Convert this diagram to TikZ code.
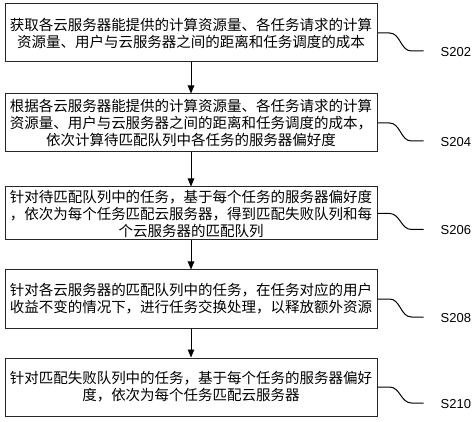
\documentclass[tikz,border=0pt]{standalone}
\usepackage{fontspec}
\setmainfont{Liberation Sans}
\newfontfamily\cjk{Noto Sans CJK SC}
\usetikzlibrary{arrows.meta}
\begin{document}
\begin{tikzpicture}[x=1pt,y=-1pt,
  box/.style={draw=black!85,line width=1pt,minimum width=372pt,inner sep=0pt,align=center,
    font=\cjk\fontsize{14.5}{17}\selectfont},
  arr/.style={-{Triangle[length=8pt,width=6.5pt]},line width=0.9pt},
  lead/.style={line width=1pt},
  lab/.style={anchor=west,font=\fontsize{13}{15}\selectfont,inner sep=0pt}]
\useasboundingbox (0,0) rectangle (474,422);
\node[box,minimum height=58pt] (b1) at (191,33)
  {获取各云服务器能提供的计算资源量、各任务请求的计算\\资源量、用户与云服务器之间的距离和任务调度的成本};
\node[box,minimum height=58pt] (b2) at (191,123)
  {根据各云服务器能提供的计算资源量、各任务请求的计算\\资源量、用户与云服务器之间的距离和任务调度的成本，\\依次计算待匹配队列中各任务的服务器偏好度};
\node[box,minimum height=53pt] (b3) at (191,213.5)
  {针对待匹配队列中的任务，基于每个任务的服务器偏好度\\，依次为每个任务匹配云服务器，得到匹配失败队列和每\\个云服务器的匹配队列};
\node[box,minimum height=58pt] (b4) at (191,299)
  {针对各云服务器的匹配队列中的任务，在任务对应的用户\\收益不变的情况下，进行任务交换处理，以释放额外资源};
\node[box,minimum height=58pt] (b5) at (191,387)
  {针对匹配失败队列中的任务，基于每个任务的服务器偏好\\度，依次为每个任务匹配云服务器};
\draw[arr] (b1) -- (b2);
\draw[arr] (b2) -- (b3);
\draw[arr] (b3) -- (b4);
\draw[arr] (b4) -- (b5);
\foreach \i/\t/\h in {1/S202/18,2/S204/18,3/S206/16,4/S208/18,5/S210/16}{
  \draw[lead] (b\i.east) -- ++(12,0) to[out=0,in=180] ++(22,\h) -- ++(12,0) coordinate (e\i);
  \node[lab] (l\i) at ([xshift=17pt,yshift=-1pt]e\i) {\t};
}
\end{tikzpicture}
\end{document}
